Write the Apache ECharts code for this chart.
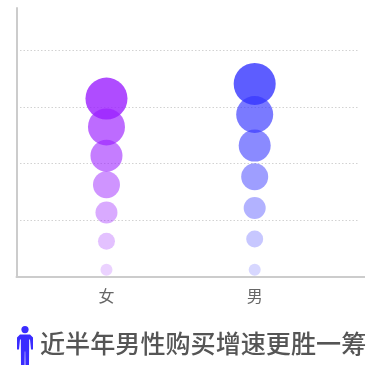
<!DOCTYPE html>
<html><head><meta charset="utf-8">
<style>html,body{margin:0;padding:0;background:#fff}#c{width:368px;height:365px}</style>
<script src="https://cdn.jsdelivr.net/npm/echarts@6/dist/echarts.min.js"></script>
</head><body><div id="c"></div>
<script>
var categories = ['女', '男'];
var titleText = '近半年男性购买增速更胜一筹';
var womenValues = [0.13, 0.63, 1.14, 1.63, 2.14, 2.65, 3.15];
var menValues = [0.13, 0.67, 1.22, 1.77, 2.32, 2.87, 3.41];
var bubbleSizes = [12, 17, 22, 27, 32, 37, 42];
var bubbleOpacity = [0.2, 0.28, 0.38, 0.48, 0.58, 0.66, 0.8];
var womenColor = '#9b1fff';
var menColor = '#3535ff';

function points(xIndex, values, color) {
  return values.map(function (v, i) {
    return {
      value: [xIndex, v],
      symbolSize: bubbleSizes[i],
      itemStyle: { color: color, opacity: bubbleOpacity[i] }
    };
  });
}
var chart = echarts.init(document.getElementById('c'), null, { renderer: 'canvas' });
chart.setOption({
  animation: false,
  title: {
    text: titleText, left: 40, top: 331, padding: 0,
    textStyle: { fontFamily: '"Noto Sans CJK SC"', fontSize: 25.1, fontWeight: 500, color: '#555' }
  },
  grid: { left: 16.5, right: 10, top: 8, bottom: 88 },
  xAxis: {
    type: 'value', min: -0.607, max: 1.697,
    axisLine: { show: true, onZero: false, lineStyle: { color: '#ccc', width: 2 } },
    axisTick: { show: false }, splitLine: { show: false },
    axisLabel: {
      customValues: [0, 1], margin: 11,
      fontFamily: '"Noto Sans CJK SC"', fontSize: 16, color: '#666',
      formatter: function (v) { return categories[v] || ''; }
    }
  },
  yAxis: {
    type: 'value', min: 0, max: 4.75, interval: 1,
    axisLine: { show: true, onZero: false, lineStyle: { color: '#ccc', width: 2 } },
    axisTick: { show: false }, axisLabel: { show: false },
    splitLine: { show: true, showMaxLine: false, lineStyle: { color: '#d2d2d2', type: [1.5, 2], width: 1 } }
  },
  series: [
    { type: 'scatter', data: points(0, womenValues, womenColor) },
    { type: 'scatter', data: points(1, menValues, menColor) }
  ],
  graphic: [
    { type: 'line', shape: { x1: 357, y1: 277, x2: 365, y2: 277 }, style: { stroke: '#ccc', lineWidth: 2 } },
    { type: 'group', left: 17, top: 326,
    children: [
      { type: 'circle', shape: { cx: 8, cy: 4, r: 3.6 }, style: { fill: '#3a2cff' } },
      { type: 'polygon', shape: {
          points: [[3,9],[13,9],[16,12],[16,24],[14,24],[13,14],[12.2,14],[12,40],[8.4,40],[8.2,26],[7.8,26],[7.6,40],[4,40],[3.8,14],[3,14],[2,24],[0,24],[0,12]] },
        style: { fill: '#3a2cff' } }
    ]
  }]
});
</script></body></html>
